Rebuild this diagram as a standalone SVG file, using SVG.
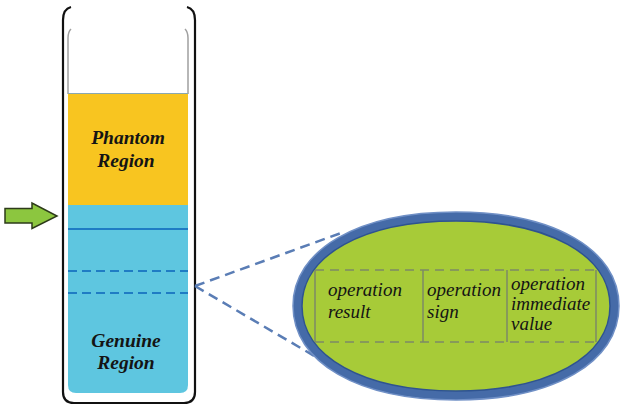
<svg xmlns="http://www.w3.org/2000/svg" width="622" height="407" viewBox="0 0 622 407">
<style>
.lbl{font-family:"Liberation Serif","Times New Roman","DejaVu Serif",serif;font-style:italic;fill:#141414}
.big{font-size:19.5px;font-weight:bold}
.small{font-size:19px}
.tubeDash{stroke:#1f7cc4;stroke-width:2;stroke-dasharray:9 5;fill:none}
.conn{stroke:#5a7db5;stroke-width:2.5;stroke-dasharray:10 6;fill:none}
.cell{stroke:#7d8a66;stroke-width:1.5;fill:none}
.cellDash{stroke:#7d8a66;stroke-width:1.5;stroke-dasharray:9 6;fill:none}
</style>
<rect width="622" height="407" fill="#ffffff"/>
<g id="tube">
  <path d="M68,93 H188 V205 H68 Z" fill="#f8c520"/>
  <path d="M68,205 H188 V385 Q188,393 180,393 H76 Q68,393 68,385 Z" fill="#5ec6e0"/>
  <path d="M68,94 V38 Q68,32 71,29 M188,94 V38 Q188,32 185,29" stroke="#a0a0a0" stroke-width="1.5" fill="none"/>
  <line x1="68" y1="93.5" x2="188" y2="93.5" stroke="#8aa8b0" stroke-width="1"/>
  <line x1="68" y1="229" x2="188" y2="229" stroke="#1f7cc4" stroke-width="2"/>
  <line x1="68" y1="271" x2="188" y2="271" class="tubeDash"/>
  <line x1="68" y1="293" x2="188" y2="293" class="tubeDash"/>
  <path d="M71,7 Q63,9 63,20 V392 Q63,403 74,403 H184 Q195,403 195,392 V20 Q195,9 187,7" stroke="#111" stroke-width="2.2" fill="none"/>
  <text class="lbl big" x="128" y="144" text-anchor="middle">Phantom</text>
  <text class="lbl big" x="126" y="167" text-anchor="middle">Region</text>
  <text class="lbl big" x="126" y="347" text-anchor="middle">Genuine</text>
  <text class="lbl big" x="126" y="369" text-anchor="middle">Region</text>
</g>
<g id="arrow">
  <path d="M5,208.5 H32 V203 L57,216 L32,228.5 V223 H5 Z" fill="#8cc63f" stroke="#2d3b1a" stroke-width="1.5" stroke-linejoin="miter"/>
</g>
<g id="connectors">
  <line x1="195" y1="286" x2="341" y2="233" class="conn"/>
  <line x1="195" y1="286" x2="316" y2="357" class="conn"/>
</g>
<g id="ellipse">
  <path d="M297.5,306 C297.5,252.3 360.9,216.5 456,216.5 C551.1,216.5 614.5,252.3 614.5,306 C614.5,359.7 551.1,395.5 456,395.5 C360.9,395.5 297.5,359.7 297.5,306 Z" fill="#a7cb38" stroke="#456ba8" stroke-width="9"/>
  <path d="M293,306 C293,249.6 358.2,212 456,212 C553.8,212 619,249.6 619,306 C619,362.4 553.8,400 456,400 C358.2,400 293,362.4 293,306 Z" fill="none" stroke="#7090c6" stroke-width="1.5"/>
  <path d="M302,306 C302,255 363.6,221 456,221 C548.4,221 610,255 610,306 C610,357 548.4,391 456,391 C363.6,391 302,357 302,306 Z" fill="none" stroke="#2e5390" stroke-width="1.5"/>
  <line x1="315" y1="270" x2="597" y2="270" class="cellDash"/>
  <line x1="315" y1="342" x2="597" y2="342" class="cellDash"/>
  <line x1="315" y1="270" x2="315" y2="342" class="cell"/>
  <line x1="423" y1="270" x2="423" y2="342" class="cell"/>
  <line x1="507" y1="270" x2="507" y2="342" class="cell"/>
  <line x1="596" y1="270" x2="596" y2="342" class="cell"/>
</g>
<g id="cell-result">
  <text class="lbl small" x="328" y="296">operation</text>
  <text class="lbl small" x="328" y="318">result</text>
</g>
<g id="cell-sign">
  <text class="lbl small" x="427" y="296">operation</text>
  <text class="lbl small" x="427" y="318">sign</text>
</g>
<g id="cell-immediate">
  <text class="lbl small" x="511" y="290">operation</text>
  <text class="lbl small" x="511" y="310">immediate</text>
  <text class="lbl small" x="511" y="330">value</text>
</g>
</svg>
